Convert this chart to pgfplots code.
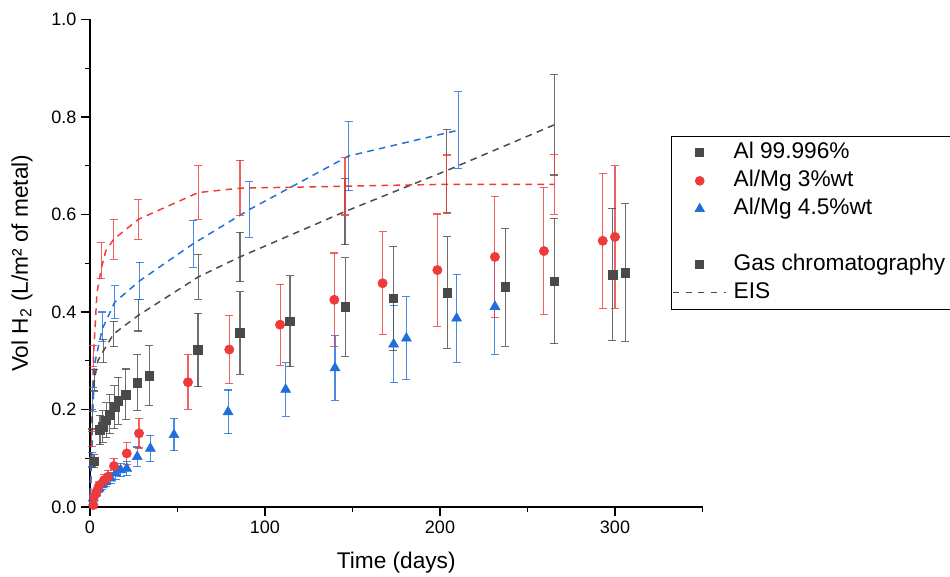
\documentclass[border=0pt]{standalone}
\usepackage{fontspec}
\setmainfont{Liberation Sans}
\usepackage{pgfplots}
\usepackage{pgfplotstable}
\pgfplotsset{compat=1.18}
\definecolor{cgray}{RGB}{74,74,74}
\definecolor{cred}{RGB}{238,58,58}
\definecolor{cblue}{RGB}{30,110,220}

\pgfplotstableread{
x y e
2.3 0.094 0.013
5.7 0.158 0.030
7.2 0.165 0.032
9.2 0.178 0.036
11.4 0.190 0.040
14.0 0.205 0.044
16.2 0.218 0.048
20.4 0.231 0.052
27.0 0.255 0.058
33.9 0.270 0.062
61.7 0.322 0.075
85.7 0.357 0.085
114.3 0.381 0.093
145.9 0.410 0.101
173.3 0.428 0.107
204.2 0.440 0.114
237.3 0.451 0.121
265.3 0.463 0.128
298.5 0.477 0.136
305.9 0.481 0.141
}\gc

\pgfplotstableread{
x y e
1.9 0.004 0.003
2.3 0.021 0.006
3.8 0.031 0.008
5.1 0.043 0.010
8.0 0.055 0.012
10.3 0.062 0.013
13.7 0.084 0.016
21.0 0.110 0.022
28.0 0.151 0.030
56.0 0.256 0.056
79.6 0.323 0.070
108.6 0.374 0.083
139.6 0.425 0.096
167.2 0.459 0.106
198.5 0.486 0.115
231.4 0.513 0.124
259.4 0.525 0.130
293.0 0.546 0.139
300.0 0.554 0.146
}\mgthree

\pgfplotstableread{
x y e
1.9 0.018 0.005
3.2 0.028 0.007
5.2 0.038 0.008
7.0 0.045 0.009
9.0 0.052 0.010
11.8 0.059 0.011
14.7 0.069 0.013
17.5 0.076 0.014
21.0 0.079 0.015
27.0 0.103 0.020
34.5 0.120 0.027
48.0 0.148 0.033
78.9 0.195 0.045
111.8 0.241 0.055
140.0 0.285 0.066
173.5 0.334 0.079
180.8 0.346 0.085
209.5 0.387 0.090
231.4 0.411 0.098
}\mgfour

\pgfplotstableread{
x y
0 0
0.5 0.10
1.2 0.18
2.5 0.26
4.5 0.30
7.6 0.32
13.5 0.355
27.6 0.393
61.9 0.472
85.7 0.513
145.7 0.606
203.8 0.690
265.3 0.784
}\eisgray

\pgfplotstableread{
x y e
1.2 0.18 0.020
2.5 0.26 0.022
7.6 0.32 0.024
13.5 0.355 0.026
27.6 0.393 0.032
61.9 0.472 0.046
85.7 0.513 0.051
145.7 0.606 0.068
203.8 0.690 0.085
265.3 0.784 0.103
}\eisgraye

\pgfplotstableread{
x y
0 0
0.5 0.07
1.0 0.14
2.0 0.31
4.0 0.44
6.5 0.49
9.0 0.525
13.5 0.549
27.6 0.590
61.9 0.645
85.7 0.654
145.7 0.658
203.8 0.662
265.3 0.662
}\eisred

\pgfplotstableread{
x y e
1.0 0.14 0.015
2.0 0.31 0.022
6.5 0.505 0.037
13.5 0.549 0.041
27.6 0.590 0.041
61.9 0.645 0.055
85.7 0.654 0.057
145.7 0.658 0.059
203.8 0.662 0.060
265.3 0.662 0.062
}\eisrede

\pgfplotstableread{
x y
0 0
0.5 0.05
1.0 0.097
1.6 0.22
3.0 0.30
7.0 0.365
14.1 0.42
28.4 0.464
59.0 0.540
91.0 0.610
147.8 0.720
210.5 0.773
}\eisblue

\pgfplotstableread{
x y e
1.0 0.097 0.015
1.6 0.22 0.025
7.0 0.37 0.030
14.1 0.42 0.034
28.4 0.464 0.038
59.0 0.540 0.048
91.0 0.610 0.057
147.8 0.720 0.071
210.5 0.773 0.079
}\eisbluee

\begin{document}
\begin{tikzpicture}
\useasboundingbox (-67.5pt,-52.5pt) rectangle (645pt,380.25pt);
\begin{axis}[
  at={(0,0)}, anchor=south west,
  scale only axis, width=459.375pt, height=365.625pt,
  xmin=0, xmax=350, ymin=0, ymax=1,
  clip=false,
  axis x line*=bottom, axis y line*=left,
  axis line style={-, line width=0.8pt},
  tick align=outside,
  major tick length=6.75pt, minor tick length=3.4pt,
  every tick/.style={black, line width=0.8pt},
  xtick={0,100,200,300}, minor xtick={50,150,250,350},
  ytick={0,0.2,0.4,0.6,0.8,1}, minor ytick={0.1,0.3,0.5,0.7,0.9},
  /pgf/number format/assume math mode=true,
  yticklabel style={/pgf/number format/.cd, fixed, fixed zerofill, precision=1},
  xticklabel style={/pgf/number format/fixed},
  tick label style={font=\fontsize{13.5}{16}\selectfont},
  xlabel={Time (days)},
  ylabel={Vol H\textsubscript{2} (L/m² of metal)},
  label style={font=\fontsize{17}{20}\selectfont},
  xlabel style={at={(axis description cs:0.5,-0.114)}, anchor=center},
  ylabel style={at={(axis description cs:-0.111,0.5)}, anchor=center, rotate=0},
  legend image code/.code={\draw[#1, mark repeat=2, mark phase=2] plot coordinates {(0pt,0pt) (20pt,0pt) (40pt,0pt)};},
  legend style={at={(axis description cs:0.9486,0.762)}, anchor=north west,
    draw=black, line width=0.6pt, fill=white,
    inner xsep=0.8pt, inner ysep=2.2pt,
    font=\fontsize{17}{20}\selectfont,
    nodes={inner xsep=5pt, inner ysep=2.3pt, text height=12.4pt, text depth=4pt},
    /tikz/column sep=0pt},
  legend cell align=left,
  errbar/.style={error bars/.cd, y dir=both, y explicit,
    error bar style={line width=0.8pt, #1, opacity=0.8},
    error mark options={rotate=90, mark size=3pt, line width=0.8pt, #1, opacity=0.8}},
  eis/.style={#1, line width=1.1pt, dash pattern=on 5pt off 4pt},
  hidemarks/.style={only marks, mark=*, mark size=0.1pt, mark options={draw opacity=0, fill opacity=0}},
]
% EIS curves
\addplot[eis=cgray, mark=none, forget plot] table[x=x,y=y] {\eisgray};
\addplot[eis=cred, mark=none, forget plot] table[x=x,y=y] {\eisred};
\addplot[eis=cblue, mark=none, forget plot] table[x=x,y=y] {\eisblue};
\addplot[hidemarks, forget plot, errbar=cgray] table[x=x,y=y,y error=e] {\eisgraye};
\addplot[hidemarks, forget plot, errbar=cred] table[x=x,y=y,y error=e] {\eisrede};
\addplot[hidemarks, forget plot, errbar=cblue] table[x=x,y=y,y error=e] {\eisbluee};
% gas chromatography
\addplot[only marks, mark=triangle*, mark size=4.3pt, color=cblue, forget plot, errbar=cblue] table[x=x,y=y,y error=e] {\mgfour};
\addplot[only marks, mark=*, mark size=3.5pt, color=cred, forget plot, errbar=cred] table[x=x,y=y,y error=e] {\mgthree};
\addplot[only marks, mark=square*, mark size=3.3pt, color=cgray, forget plot, errbar=cgray] table[x=x,y=y,y error=e] {\gc};
% legend
\addlegendimage{only marks, mark=square*, mark size=3pt, cgray}
\addlegendentry{Al 99.996\%}
\addlegendimage{only marks, mark=*, mark size=3.3pt, cred}
\addlegendentry{Al/Mg 3\%wt}
\addlegendimage{only marks, mark=triangle*, mark size=4pt, cblue}
\addlegendentry{Al/Mg 4.5\%wt}
\addlegendimage{empty legend}
\addlegendentry{}
\addlegendimage{only marks, mark=square*, mark size=3pt, cgray}
\addlegendentry{Gas chromatography}
\addlegendimage{cgray, line width=0.9pt, dash pattern=on 4.5pt off 5pt}
\addlegendentry{EIS}
\end{axis}
\end{tikzpicture}
\end{document}
